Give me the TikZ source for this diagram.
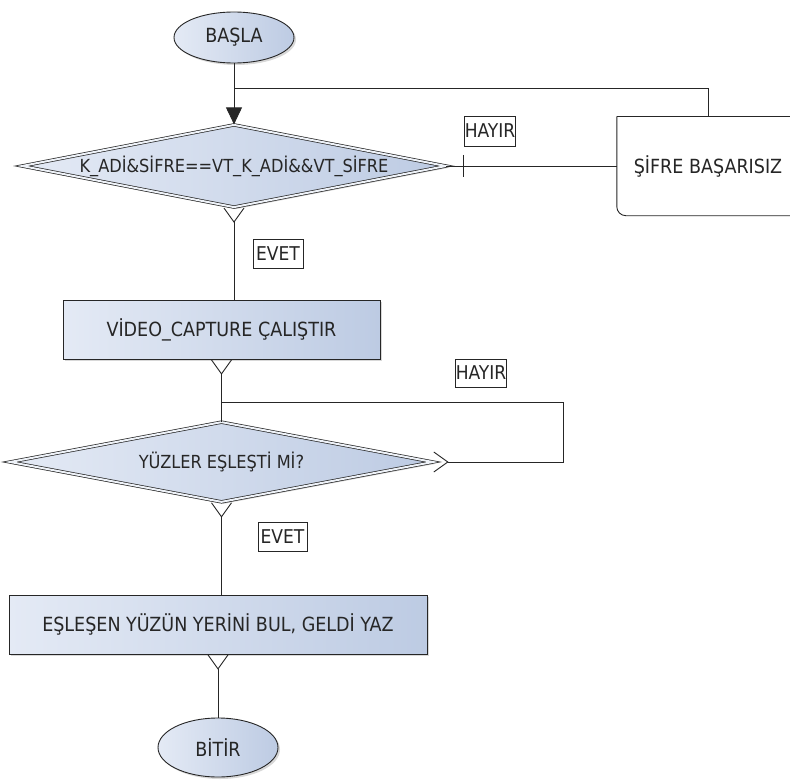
\documentclass[tikz,border=0pt]{standalone}
\usepackage{fontspec}
\setmainfont{DejaVu Sans Condensed}
\usetikzlibrary{arrows.meta,shapes.geometric,shadows,calc}
\definecolor{lc}{HTML}{E4EAF5}
\definecolor{rc}{HTML}{BDCBE3}
\definecolor{ln}{HTML}{262626}
\definecolor{gap}{HTML}{EEF2F8}
\begin{document}
\begin{tikzpicture}[x=1pt,y=-1pt,
  every node/.style={font=\fontsize{19.5}{22}\selectfont, text=ln},
  conn/.style={draw=ln, line width=0.9pt},
  crow/.style={conn, {Straight Barb[reversed,length=14pt,width=20pt]}-},
  shd/.style={drop shadow={shadow xshift=2pt,shadow yshift=-2pt,opacity=0.3}},
  proc/.style={rectangle, draw=ln, line width=0.9pt, left color=lc, right color=rc, inner sep=0pt, shd},
  term/.style={ellipse, draw=ln, line width=0.9pt, left color=lc, right color=rc, inner sep=0pt, shd},
  dec/.style={diamond, aspect=5, draw=ln, line width=0.7pt, double=gap, double distance=2pt,
    left color=lc, right color=rc, inner sep=0pt, shd, font=\fontsize{18}{20}\selectfont},
  lbl/.style={rectangle, draw=ln, line width=0.8pt, fill=white, inner xsep=0pt, inner ysep=0pt,
    font=\fontsize{19}{21}\selectfont}
]
\clip (0,0) rectangle (790,781);
\fill[white] (0,0) rectangle (790,781);

% nodes
\node[term, minimum width=120pt, minimum height=51pt] (s) at (234,37.5) {BAŞLA};
\node[dec, minimum width=424pt, minimum height=82pt] (d1) at (234,166) {K\_ADİ\&SİFRE==VT\_K\_ADİ\&\&VT\_SİFRE};
\node[draw=none, fill=white, minimum width=182pt, minimum height=99pt, inner sep=0pt] (f) at (708,166) {ŞİFRE BAŞARISIZ};
\node[proc, minimum width=317pt, minimum height=59pt] (v) at (221.5,329.5) {VİDEO\_CAPTURE ÇALIŞTIR};
\node[dec, minimum width=423pt, minimum height=80pt] (d2) at (221.5,462) {YÜZLER EŞLEŞTİ Mİ?};
\node[proc, minimum width=418pt, minimum height=59pt] (e) at (218,624.5) {EŞLEŞEN YÜZÜN YERİNİ BUL, GELDİ YAZ};
\node[term, minimum width=120pt, minimum height=59pt] (t) at (218,747.5) {BİTİR};

% box outline of f (square top-left, rounded bottom-left)
\draw[conn] (f.north west) -- (f.north east);
\draw[conn, rounded corners=9pt] (f.north west) -- (f.south west) -- (f.south east);

% labels
\node[lbl, minimum width=50pt, minimum height=29pt] (ev1) at (278,253.5) {EVET};
\node[lbl, minimum width=49pt, minimum height=30pt] (hy1) at (490,131) {HAYIR};
\node[lbl, minimum width=50pt, minimum height=28pt] (hy2) at (481,373) {HAYIR};
\node[lbl, minimum width=49pt, minimum height=29pt] (ev2) at (282.5,536.5) {EVET};

% helper coordinates
\coordinate (y88) at (0,88);
\coordinate (lp) at (563,402);

% connectors
\draw[crow, -{Triangle[length=17pt,width=16pt]}] (s.south) -- (d1.north);
\draw[conn] (f.north) -- (f.north |- y88) -- (s.south |- y88);
\draw[conn] (d1.east) -- (f.west);
\draw[conn] ($(d1.east)+(17,-11)$) -- ($(d1.east)+(17,11)$);
\draw[crow] (d1.south) -- (d1.south |- v.north);
\draw[crow] (v.south) -- (d2.north);
\draw[crow] (d2.east) -| (lp) -- (v.south |- lp);
\draw[crow] (d2.south) -- (d2.south |- e.north);
\draw[crow] (e.south) -- (t.north);
\end{tikzpicture}
\end{document}
